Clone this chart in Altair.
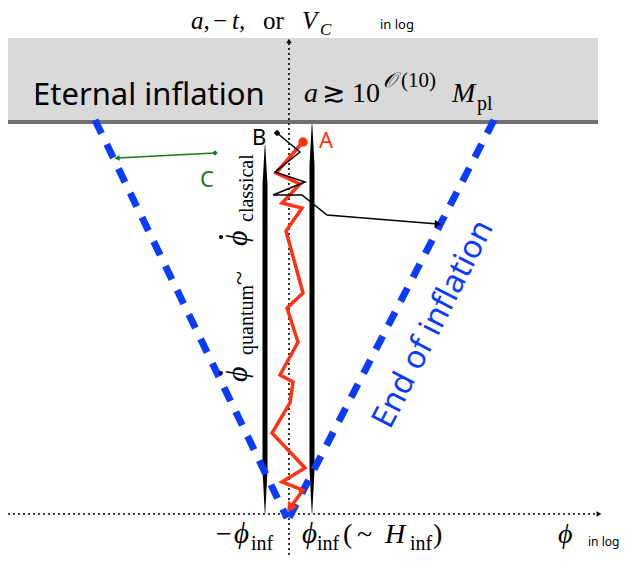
import altair as alt
import pandas as pd

# ---------------- data (reference pixel coordinates) ----------------
band_x = [4, 598]
band_y = [38, 122]

axis_v_x = [289, 289]
axis_v_y = [555, 40]
axis_h_x = [8, 598]
axis_h_y = [514, 514]

blue_left_x = [95, 287]
blue_left_y = [120, 518]
blue_right_x = [494, 289]
blue_right_y = [120, 518]

wall_left_y = [145, 185, 470, 513]
wall_left_x = [265, 265, 265, 265]
wall_left_w = [0.5, 5, 5, 0.5]
wall_right_y = [124, 165, 470, 513]
wall_right_x = [312, 312, 312, 312]
wall_right_w = [0.5, 5, 5, 0.5]

red_x = [302, 276, 300, 282, 302, 286, 303, 287, 298, 280, 293, 290, 272, 305, 282, 303, 290]
red_y = [143, 173, 184, 203, 208, 231, 293, 308, 342, 375, 382, 403, 433, 468, 482, 490, 508]

blk_x = [277, 300, 275, 305, 273, 302, 327, 438]
blk_y = [133, 152, 172, 182, 195, 195, 215, 224]

grn_x = [215, 117]
grn_y = [153, 158]

pt_x = [289, 599, 290, 438, 117, 303, 277, 215, 221, 221]
pt_y = [41, 514, 508, 224, 158, 142, 133, 153, 373, 237]
pt_shape = ["triangle-up", "triangle-right", "triangle-down", "triangle-right",
            "triangle-left", "circle", "diamond", "diamond", "circle", "circle"]
pt_angle = [0, 0, 35, 4, 357, 0, 0, 0, 0, 0]
pt_size = [30, 30, 130, 60, 35, 90, 45, 30, 16, 16]
pt_color = ["black", "black", "#ff3311", "black", "#1a7a1a", "#ff3311", "black",
            "#1a7a1a", "black", "black"]

# serif italic text pieces
si_text = ["a,", "t,", "V", "C", "a", "M", "\u03d5", "\u03d5",
           "\u03d5", "\u03d5", "H", "\u03d5", "\U0001D4AA"]
si_x = [191, 232, 302, 320, 304, 452, 247, 247, 234, 302, 385, 558, 383]
si_y = [29, 29, 29, 35, 102, 102, 382, 246, 543, 543, 543, 543, 87]
si_size = [25, 25, 25, 17, 28, 28, 30, 30, 29, 29, 28, 28, 21]
si_angle = [0, 0, 0, 0, 0, 0, 270, 270, 0, 0, 0, 0, 0]

# serif upright text pieces
su_text = ["\u2212", "or", "\u2273", "10", "(10)", "pl", "quantum", "~", "classical",
           "\u2212", "inf", "inf", "(", "~", "inf", ")"]
su_x = [213, 263, 322, 352, 401, 477, 253, 247, 253, 216, 251, 317, 343, 357, 410, 433]
su_y = [29, 29, 102, 102, 87, 110, 355, 285, 222, 543, 550, 550, 543, 543, 550, 543]
su_size = [25, 25, 28, 28, 21, 20, 20, 26, 20, 28, 20, 20, 28, 28, 20, 28]
su_angle = [0, 0, 0, 0, 0, 0, 270, 270, 270, 0, 0, 0, 0, 0, 0, 0]

# sans text pieces
ss_text = ["in log", "Eternal inflation", "A", "B", "C", "in log"]
ss_x = [380, 33, 319, 252, 200, 588]
ss_y = [29, 105, 148, 145, 187, 546]
ss_size = [13, 31, 22, 22, 22, 12]
ss_color = ["black", "black", "#ff3311", "black", "#1a7a1a", "black"]

eoi_text = ["End of inflation"]
eoi_x = [433]
eoi_y = [324]

# ---------------- chart ----------------
XD = [8, 625]
YD = [8, 556]
W = 617
H = 548


def X(f="x"):
    return alt.X(f"{f}:Q", scale=alt.Scale(domain=XD, nice=False, zero=False), axis=None)


def Y(f="y"):
    return alt.Y(f"{f}:Q", scale=alt.Scale(domain=YD, nice=False, zero=False, reverse=True), axis=None)


def line_layer(xs, ys, color, width, dash=None):
    df = pd.DataFrame({"x": xs, "y": ys, "i": list(range(len(xs)))})
    kw = dict(color=color, strokeWidth=width, clip=False)
    if dash is not None:
        kw["strokeDash"] = dash
    return alt.Chart(df).mark_line(**kw).encode(x=X(), y=Y(), order=alt.Order("i:Q"))


def trail_layer(xs, ys, ws):
    df = pd.DataFrame({"x": xs, "y": ys, "w": ws, "i": list(range(len(xs)))})
    return alt.Chart(df).mark_trail(color="black").encode(
        x=X(), y=Y(), order=alt.Order("i:Q"), size=alt.Size("w:Q", scale=None))


def text_layer(texts, xs, ys, sizes, angles, colors, font, style="normal",
               align="left", baseline="alphabetic"):
    df = pd.DataFrame({"x": xs, "y": ys, "t": texts, "s": sizes, "a": angles, "c": colors})
    return alt.Chart(df).mark_text(font=font, fontStyle=style, align=align,
                                   baseline=baseline).encode(
        x=X(), y=Y(), text="t:N",
        size=alt.Size("s:Q", scale=None),
        angle=alt.Angle("a:Q", scale=None),
        color=alt.Color("c:N", scale=None))


band = alt.Chart(pd.DataFrame({"x": [band_x[0]], "x2": [band_x[1]],
                               "y": [band_y[0]], "y2": [band_y[1]]})).mark_rect(
    color="#d9d9d9").encode(x=X(), x2="x2:Q", y=Y(), y2="y2:Q")

band_edge = line_layer(band_x, [band_y[1], band_y[1]], "#707070", 4)

ax_v = line_layer(axis_v_x, axis_v_y, "black", 1.6, [2, 3])
ax_h = line_layer(axis_h_x, axis_h_y, "black", 1.6, [2, 3])

walls = trail_layer(wall_left_x, wall_left_y, wall_left_w) + \
    trail_layer(wall_right_x, wall_right_y, wall_right_w)

blue = line_layer(blue_left_x, blue_left_y, "#0a3cff", 7, [15, 12]) + \
    line_layer(blue_right_x, blue_right_y, "#0a3cff", 7, [15, 12])

red = line_layer(red_x, red_y, "#ff3311", 3.5)
blk = line_layer(blk_x, blk_y, "black", 1.5)
grn = line_layer(grn_x, grn_y, "#1a7a1a", 1.5)

pts_df = pd.DataFrame({"x": pt_x, "y": pt_y, "sh": pt_shape, "a": pt_angle,
                       "s": pt_size, "c": pt_color})
pts = alt.Chart(pts_df).mark_point(filled=True, opacity=1).encode(
    x=X(), y=Y(), shape=alt.Shape("sh:N", scale=None),
    angle=alt.Angle("a:Q", scale=None), size=alt.Size("s:Q", scale=None),
    color=alt.Color("c:N", scale=None))

SERIF = "Liberation Serif, DejaVu Serif, serif"
SANS = "Noto Sans, Open Sans, sans-serif"

t_si = text_layer(si_text, si_x, si_y, si_size, si_angle, ["black"] * len(si_text),
                  SERIF, style="italic")
t_su = text_layer(su_text, su_x, su_y, su_size, su_angle, ["black"] * len(su_text),
                  SERIF)
t_ss = text_layer(ss_text, ss_x, ss_y, ss_size, [0] * len(ss_text), ss_color, SANS)
t_eoi = text_layer(eoi_text, eoi_x, eoi_y, [32], [297], ["#0a3cff"], SANS,
                   align="center", baseline="middle")

chart = alt.layer(band, band_edge, ax_v, ax_h, walls, blue, red, blk, grn, pts,
                  t_si, t_su, t_ss, t_eoi).properties(
    width=W, height=H, autosize=alt.AutoSizeParams(type="none"), padding=0
).configure_view(strokeWidth=0)

chart.save("out.html", embed_options={"renderer": "svg", "actions": False})
